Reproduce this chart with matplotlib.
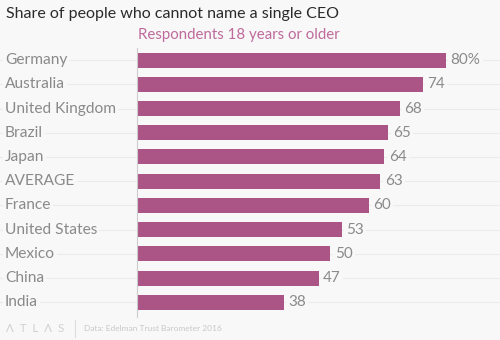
import matplotlib
matplotlib.use("Agg")
import matplotlib.pyplot as plt
from matplotlib.transforms import blended_transform_factory

countries = ["Germany", "Australia", "United Kingdom", "Brazil", "Japan", "AVERAGE",
             "France", "United States", "Mexico", "China", "India"]
shares = [80, 74, 68, 65, 64, 63, 60, 53, 50, 47, 38]

_BG = "#f8f8f8"
_BAR = "#ab5587"
_LABEL = "#8a8a8a"
_GRID = "#ebebeb"

plt.rcParams["font.family"] = ["Lato", "DejaVu Sans"]

fig = plt.figure(figsize=(5, 3.4), dpi=100, facecolor=_BG)
ax = fig.add_axes([0.274, 0.075, 0.716, 0.784], facecolor="none")

positions = list(range(len(countries)))
ax.barh(positions, shares, height=0.62, color=_BAR, zorder=3)
ax.set_ylim(len(countries) - 0.5, -0.5)
ax.set_xlim(0, 92.7)
ax.axis("off")

# faint row guides spanning the whole figure
trans = blended_transform_factory(fig.transFigure, ax.transData)
for pos in positions:
    ax.plot([0.0, 1.0], [pos, pos], transform=trans, color=_GRID, lw=0.8,
            zorder=0, clip_on=False)

# vertical baseline
ax.plot([0, 0], [-0.5, len(countries) - 0.4], color="#cccccc", lw=0.8,
        zorder=4, clip_on=False)

for pos, name, val in zip(positions, countries, shares):
    ax.text(0.01, pos, name, transform=trans, ha="left", va="center",
            fontsize=11.2, color=_LABEL, zorder=2,
            bbox=dict(facecolor=_BG, edgecolor="none", pad=1.5))
    note = f"{val}%" if pos == 0 else f"{val}"
    ax.text(val + 1.2, pos, note, ha="left", va="center", fontsize=11,
            color=_LABEL, zorder=2,
            bbox=dict(facecolor=_BG, edgecolor="none", pad=1.5))

fig.text(0.012, 0.958, "Share of people who cannot name a single CEO", fontsize=11.5,
         color="#2b2b2b", ha="left", va="center")
fig.text(0.276, 0.898, "Respondents 18 years or older", fontsize=10.8,
         color="#bf6a9c", ha="left", va="center")

fig.text(0.012, 0.035, "Λ  T  L  Λ  S", fontsize=8.3, color="#d0d0d0", ha="left", va="center")
fig.add_artist(plt.Line2D([0.15, 0.15], [0.01, 0.06], color="#dddddd", lw=0.8))
fig.text(0.168, 0.035, "Data: Edelman Trust Barometer 2016", fontsize=6,
         color="#c8c8c8", ha="left", va="center")

fig.savefig("out.png", dpi=100, facecolor=_BG)
